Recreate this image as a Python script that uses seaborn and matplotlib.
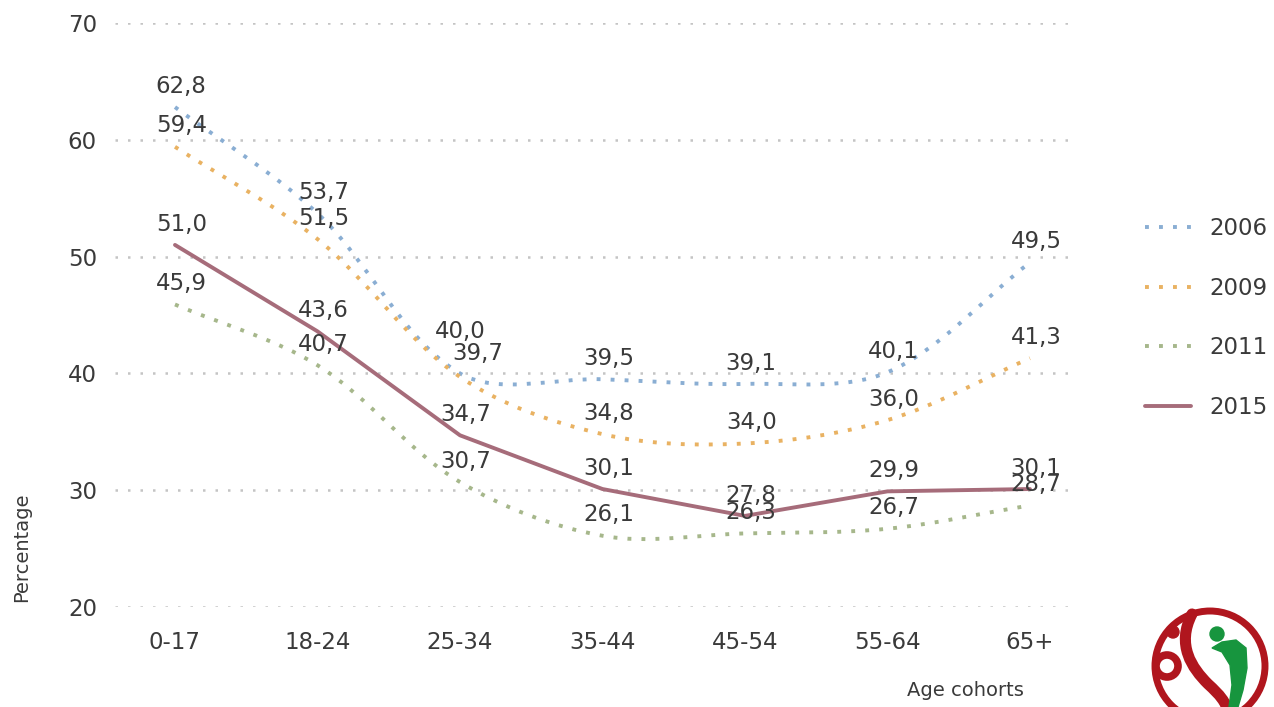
import numpy as np
import pandas as pd
import matplotlib
matplotlib.use("Agg")
import matplotlib.pyplot as plt
import seaborn as sns
from matplotlib.path import Path
from matplotlib.patches import PathPatch, Circle, Polygon
from matplotlib.lines import Line2D

# ---------------- data ----------------
categories = ["0-17", "18-24", "25-34", "35-44", "45-54", "55-64", "65+"]
y2006 = [62.8, 53.7, 40.0, 39.5, 39.1, 40.1, 49.5]
y2009 = [59.4, 51.5, 39.7, 34.8, 34.0, 36.0, 41.3]
y2011 = [45.9, 40.7, 30.7, 26.1, 26.3, 26.7, 28.7]
y2015 = [51.0, 43.6, 34.7, 30.1, 27.8, 29.9, 30.1]
series_names = ["2006", "2009", "2011", "2015"]
yticks = [20, 30, 40, 50, 60, 70]

series = {"2006": y2006, "2009": y2009, "2011": y2011, "2015": y2015}
colors = {"2006": "#8aaed3", "2009": "#e9b262", "2011": "#a6b78b", "2015": "#a66c7a"}

sns.set_theme(style="white")
plt.rcParams['font.family'] = ['DejaVu Sans']
TXT = "#3a3a3a"
FS = 16.5

fig = plt.figure(figsize=(12.74, 7.07), dpi=100)
ax = fig.add_axes([115/1274, 1-607/707, (1075-115)/1274, (607-23)/707])

rows = []
for name in series_names:
    for i, v in enumerate(series[name]):
        rows.append({"year": name, "x": i, "value": v})
df = pd.DataFrame(rows)

# gridlines
for t in yticks:
    ax.axhline(t, color="#c4c4c4", lw=1.8, ls=(0, (1, 4.0)), zorder=0)

DOT = (0, (1, 2.6))
LW = 2.8
XS, YS = 142.5, 11.68  # approx pixel scale used to weight the smoothing

def smooth_path(xs, ys, t=1/3):
    """Excel-like smoothed bezier path through the data points."""
    n = len(xs)
    P = [np.array([xs[i], ys[i]], float) for i in range(n)]
    def dist(a, b):
        return np.hypot((a[0]-b[0])*XS, (a[1]-b[1])*YS)
    verts = [tuple(P[0])]
    codes = [Path.MOVETO]
    for i in range(n - 1):
        p0 = P[max(i-1, 0)]; p1 = P[i]; p2 = P[i+1]; p3 = P[min(i+2, n-1)]
        d01, d12, d23 = dist(p0, p1), dist(p1, p2), dist(p2, p3)
        r1 = d12 / (d01 + d12)
        r2 = d12 / (d12 + d23)
        c1 = p1 + t * (p2 - p0) * r1
        c2 = p2 - t * (p3 - p1) * r2
        verts += [tuple(c1), tuple(c2), tuple(p2)]
        codes += [Path.CURVE4]*3
    return Path(verts, codes)

for name in ["2006", "2009", "2011"]:
    d = df[df.year == name]
    patch = PathPatch(smooth_path(d.x.values, d.value.values), fill=False,
                      edgecolor=colors[name], lw=LW, ls=DOT, zorder=2)
    ax.add_patch(patch)

sns.lineplot(data=df[df.year == "2015"], x="x", y="value", color=colors["2015"],
             lw=LW, ax=ax, legend=False, zorder=3)

# value labels
tweak = {("2006", 2): (0, 30), ("2009", 2): (13, 17)}
for name in series_names:
    for i, v in enumerate(series[name]):
        dx, dy = tweak.get((name, i), (4.5, 15))
        ax.annotate(f"{v:.1f}".replace(".", ","), (i, v), xytext=(dx, dy),
                    textcoords="offset points", ha="center", va="center",
                    fontsize=FS, color=TXT, zorder=5)

ax.set_xlim(-0.421, 6.316)
ax.set_ylim(20, 70)
ax.set_xticks(range(len(categories)))
ax.set_xticklabels(categories)
ax.set_yticks(yticks)
ax.tick_params(axis="y", length=0, pad=13, labelsize=FS, labelcolor=TXT)
ax.tick_params(axis="x", length=0, pad=17, labelsize=FS, labelcolor=TXT)
ax.set_xlabel("")
ax.set_ylabel("")
for s in ax.spines.values():
    s.set_visible(False)
ax.grid(False)

fig.text(22/1274, 1-547/707, "Percentage", rotation=90, ha="center", va="center",
         fontsize=14, color=TXT)
fig.text(965/1274, 1-690/707, "Age cohorts", ha="center", va="center",
         fontsize=14, color=TXT)

handles = []
for name in series_names:
    ls = "-" if name == "2015" else DOT
    handles.append(Line2D([], [], color=colors[name], lw=LW, ls=ls))
fig.legend(handles, series_names, loc="upper left",
           bbox_to_anchor=(1145/1274, 1-217/707), frameon=False,
           fontsize=FS, labelcolor=TXT, handlelength=2.0, handletextpad=0.8,
           labelspacing=1.6, borderaxespad=0, borderpad=0)

# logo (approximation)
lax = fig.add_axes([1145/1274, 0, 129/1274, 104/707])
lax.set_xlim(1145, 1274)
lax.set_ylim(707, 603)
lax.axis("off")
red = "#b0161e"
green = "#17953e"
lax.add_patch(Circle((1210, 666), 55, fill=False, ec=red, lw=5))
lax.add_patch(Circle((1173, 632), 6, color=red))
lax.add_patch(Circle((1167, 666), 11, fill=False, ec=red, lw=5.5))
s_path = Path([(1192, 614), (1176, 645), (1192, 668), (1208, 684), (1220, 695), (1226, 702), (1228, 712)],
              [Path.MOVETO] + [Path.CURVE4]*3 + [Path.CURVE4]*3)
lax.add_patch(PathPatch(s_path, fill=False, ec=red, lw=8, capstyle="round"))
lax.add_patch(Circle((1217, 634), 7, color=green))
lax.add_patch(Polygon([(1212, 648), (1222, 642), (1236, 640), (1246, 648), (1247, 668),
                       (1243, 690), (1238, 707), (1229, 707), (1232, 685), (1230, 665), (1222, 652)],
                      closed=True, color=green))

fig.savefig("out.png", dpi=100)
